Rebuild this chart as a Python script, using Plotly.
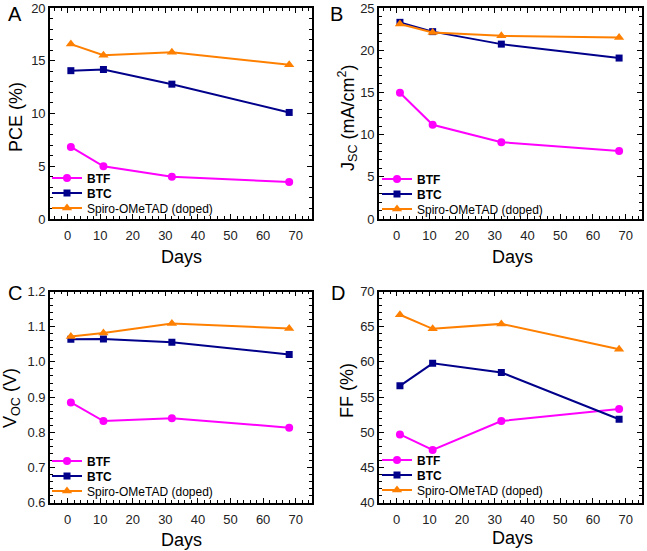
import plotly.graph_objects as go

days = [1, 11, 32, 68]
series_names = ["<b>BTF</b>", "<b>BTC</b>", "Spiro-OMeTAD (doped)"]

pce_btf = [6.83, 5.0, 4.0, 3.5]
pce_btc = [14.06, 14.17, 12.78, 10.1]
pce_spiro = [16.58, 15.52, 15.8, 14.63]

jsc_btf = [14.95, 11.17, 9.1, 8.05]
jsc_btc = [23.3, 22.2, 20.72, 19.07]
jsc_spiro = [23.1, 22.1, 21.7, 21.5]

voc_btf = [0.885, 0.832, 0.840, 0.813]
voc_btc = [1.064, 1.065, 1.056, 1.021]
voc_spiro = [1.072, 1.082, 1.109, 1.095]

ff_btf = [49.7, 47.5, 51.6, 53.3]
ff_btc = [56.6, 59.8, 58.5, 51.85]
ff_spiro = [66.7, 64.7, 65.4, 61.8]

colors = ["#FF00FF", "#00008B", "#FF8000"]
symbols = ["circle", "square", "triangle-up"]
msizes = [8, 7, 9]

panels = [
    ("A", [pce_btf, pce_btc, pce_spiro], "PCE (%)", [0, 20], 5, None),
    ("B", [jsc_btf, jsc_btc, jsc_spiro], "J<sub>SC</sub> (mA/cm<sup>2</sup>)", [0, 25], 5, None),
    ("C", [voc_btf, voc_btc, voc_spiro], "V<sub>OC</sub> (V)", [0.6, 1.2], 0.1, ".1f"),
    ("D", [ff_btf, ff_btc, ff_spiro], "FF (%)", [40, 70], 5, None),
]

W, H = 647, 551
def px(x):
    return x / W
def py(y):
    return 1 - y / H

xdomains = [[px(50), px(312)], [px(379), px(642)], [px(50), px(312)], [px(379), px(642)]]
ydomains = [[py(219), py(8)], [py(219), py(8)], [py(502.7), py(291.5)], [py(502.7), py(291.5)]]

fig = go.Figure()
FONT = "Liberation Sans, Arial, sans-serif"

# pixel position (left of legend symbol, centre y of first row)
legend_pos = [(53, 178), (383, 179), (53, 461), (383, 460)]
row_gap = 15
label_pos = [(15, 14), (336, 14), (15, 293), (338, 293)]
ytitle_pos = [(16, 117), (347, 117), (11, 398), (347, 390)]
xtitle_pos = [(182, 257), (512, 257), (182, 540), (512, 538)]

legend_count = 0
for i, (lab, data, ytitle, yr, dt, fmt) in enumerate(panels):
    n = "" if i == 0 else str(i + 1)
    lx, ly = legend_pos[i]
    for j in range(3):
        legend_count += 1
        leg = "legend" if legend_count == 1 else f"legend{legend_count}"
        fig.add_trace(go.Scatter(
            x=days, y=data[j], name=series_names[j], mode="lines+markers",
            line=dict(color=colors[j], width=2),
            marker=dict(symbol=symbols[j], size=msizes[j], color=colors[j]),
            xaxis="x" + n, yaxis="y" + n, legend=leg,
        ))
        fig.update_layout(**{leg: dict(x=px(lx - 6), y=py(ly + j * row_gap), xanchor="left",
                                       yanchor="middle",
                                       bgcolor="rgba(0,0,0,0)", borderwidth=0,
                                       font=dict(size=12, family=FONT, color="black"),
                                       itemwidth=30)})
    axcommon = dict(showline=True, linecolor="black", linewidth=1.6, mirror="ticks",
                    ticks="inside", ticklen=5, tickwidth=1.2, tickcolor="black",
                    showgrid=False, zeroline=False, automargin=False,
                    tickfont=dict(size=13, color="#222", family=FONT),
                    minor=dict(ticks="inside", ticklen=3, tickwidth=1, tickcolor="black", showgrid=False))
    fig.update_layout(**{
        "xaxis" + n: dict(domain=xdomains[i], range=[-5.4, 75], dtick=10, tick0=0,
                          anchor="y" + n, ticklabelstandoff=4, **axcommon),
        "yaxis" + n: dict(domain=ydomains[i], range=yr, dtick=dt, tick0=yr[0],
                          anchor="x" + n, tickformat=fmt, **axcommon),
    })
    fig.add_annotation(x=px(label_pos[i][0]), y=py(label_pos[i][1]), xref="paper", yref="paper",
                       text=lab, showarrow=False, font=dict(size=20, family=FONT, color="black"),
                       xanchor="center", yanchor="middle")
    fig.add_annotation(x=px(ytitle_pos[i][0]), y=py(ytitle_pos[i][1]), xref="paper", yref="paper",
                       text=ytitle, showarrow=False, textangle=-90,
                       font=dict(size=18, family=FONT, color="black"),
                       xanchor="center", yanchor="middle")
    fig.add_annotation(x=px(xtitle_pos[i][0]), y=py(xtitle_pos[i][1]), xref="paper", yref="paper",
                       text="Days", showarrow=False,
                       font=dict(size=18, family=FONT, color="black"),
                       xanchor="center", yanchor="middle")

fig.update_layout(width=W, height=H, margin=dict(l=0, r=0, t=0, b=0, autoexpand=False),
                  paper_bgcolor="white", plot_bgcolor="white", showlegend=True,
                  template="none", font=dict(family=FONT))
fig.write_html("out.html", config={"displayModeBar": False},
               post_script="document.body.style.margin='0';document.body.style.overflow='hidden';")
